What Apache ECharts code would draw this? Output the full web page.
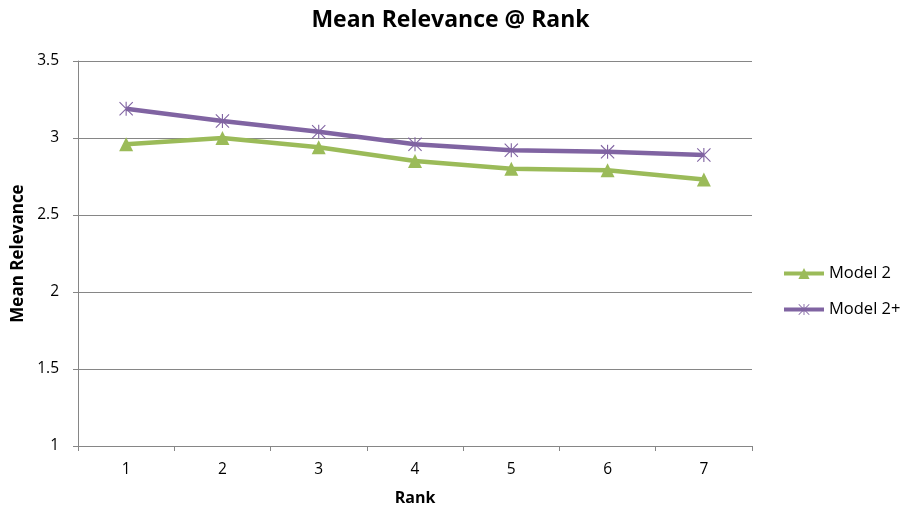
<!DOCTYPE html>
<html>
<head>
<meta charset="utf-8">
<script src="https://cdn.jsdelivr.net/npm/echarts@6/dist/echarts.min.js"></script>
<style>
  html, body { margin: 0; padding: 0; background: #fff; }
  #chart { width: 901px; height: 508px; }
</style>
</head>
<body>
<div id="chart"></div>
<script>
// Rank positions on the x axis
const ranks = ['1', '2', '3', '4', '5', '6', '7'];
// Mean relevance per rank for each model
const model2 = [2.96, 3.00, 2.94, 2.85, 2.80, 2.79, 2.73];
const model2plus = [3.19, 3.11, 3.04, 2.96, 2.92, 2.91, 2.89];
// Y axis range and step
const yMin = 1, yMax = 3.5, yStep = 0.5;

// Asterisk marker: one vertical bar crossed by two diagonal bars
const asterisk = 'path://M9.2,0 L10.8,0 L10.8,20 L9.2,20 Z ' +
  'M0,1.1 L1.1,0 L20,18.9 L18.9,20 Z ' +
  'M18.9,0 L20,1.1 L1.1,20 L0,18.9 Z';

const font = 'Open Sans, Liberation Sans, sans-serif';
const chart = echarts.init(document.getElementById('chart'), null, { renderer: 'canvas' });
chart.setOption({
  animation: false,
  backgroundColor: '#ffffff',
  title: {
    text: 'Mean Relevance @ Rank',
    left: 'center',
    top: 4,
    textStyle: { fontFamily: font, fontSize: 23, fontWeight: 'bold', color: '#000' }
  },
  grid: { left: 78, right: 149, top: 61, bottom: 62, containLabel: false, outerBoundsMode: 'none' },
  legend: {
    orient: 'vertical',
    left: 777,
    top: 260,
    itemWidth: 40,
    itemHeight: 14,
    itemGap: 19,
    lineStyle: { width: 4 },
    textStyle: { fontFamily: font, fontSize: 16.5, color: '#000' },
    data: ['Model 2', 'Model 2+']
  },
  xAxis: {
    type: 'category',
    data: ranks,
    boundaryGap: true,
    name: 'Rank',
    nameLocation: 'middle',
    nameGap: 44,
    nameTextStyle: { fontFamily: font, fontSize: 16, fontWeight: 'bold', color: '#000' },
    axisLine: { lineStyle: { color: '#868686', width: 1 } },
    axisTick: { show: true, length: 5, alignWithLabel: false, lineStyle: { color: '#868686' } },
    axisLabel: { margin: 16, fontFamily: font, fontSize: 15.5, color: '#000' },
    splitLine: { show: false }
  },
  yAxis: {
    type: 'value',
    min: yMin,
    max: yMax,
    interval: yStep,
    name: 'Mean Relevance',
    nameLocation: 'middle',
    nameGap: 51,
    nameTextStyle: { fontFamily: font, fontSize: 17, fontWeight: 'bold', color: '#000' },
    axisLine: { show: true, lineStyle: { color: '#868686', width: 1 } },
    axisTick: { show: true, length: 5, lineStyle: { color: '#868686' } },
    axisLabel: { margin: 19, fontFamily: font, fontSize: 15.5, color: '#000' },
    splitLine: { show: true, lineStyle: { color: '#868686', width: 1 } }
  },
  series: [
    {
      name: 'Model 2',
      type: 'line',
      data: model2,
      symbol: 'triangle',
      symbolSize: 14,
      lineStyle: { color: '#9BBB59', width: 4.5 },
      itemStyle: { color: '#9BBB59' },
      z: 3
    },
    {
      name: 'Model 2+',
      type: 'line',
      data: model2plus,
      symbol: asterisk,
      symbolSize: 14,
      lineStyle: { color: '#8064A2', width: 4.5 },
      itemStyle: { color: '#8064A2' },
      z: 4
    }
  ]
});
</script>
</body>
</html>
